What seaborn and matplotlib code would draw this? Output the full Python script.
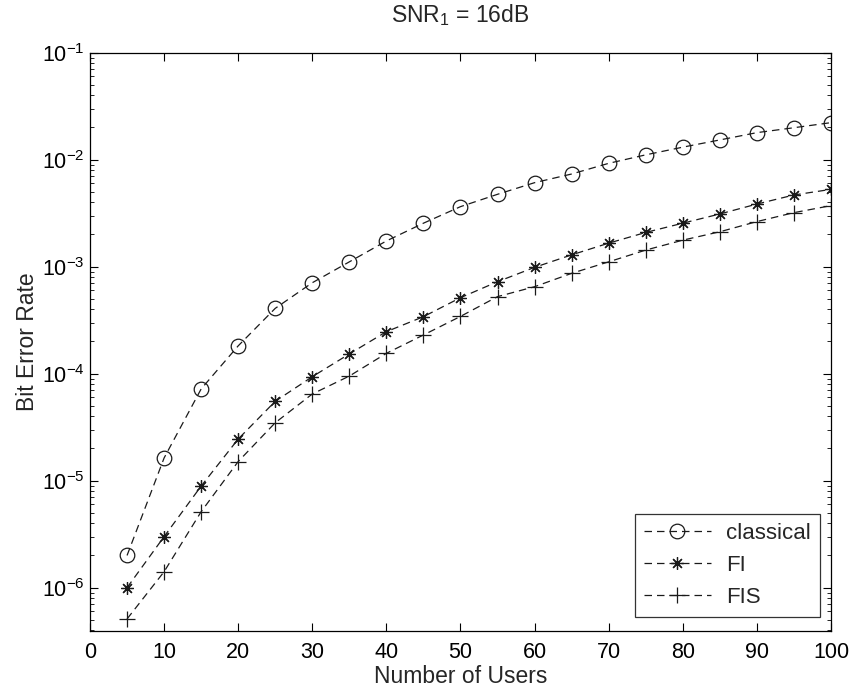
import numpy as np
import pandas as pd
import matplotlib
matplotlib.use("Agg")
import matplotlib.pyplot as plt
import matplotlib.ticker as mticker
import seaborn as sns

users = [5, 10, 15, 20, 25, 30, 35, 40, 45, 50, 55, 60, 65, 70, 75, 80, 85, 90, 95, 100]
classical = [2.0e-6, 1.63e-5, 7.2e-5, 1.82e-4, 4.08e-4, 7.08e-4, 1.11e-3, 1.74e-3, 2.55e-3, 3.64e-3,
             4.75e-3, 6.1e-3, 7.35e-3, 9.25e-3, 1.11e-2, 1.31e-2, 1.53e-2, 1.79e-2, 1.99e-2, 2.22e-2]
fi = [1.0e-6, 3.0e-6, 8.9e-6, 2.45e-5, 5.52e-5, 9.37e-5, 1.53e-4, 2.47e-4, 3.41e-4, 5.13e-4,
      7.24e-4, 9.86e-4, 1.29e-3, 1.66e-3, 2.09e-3, 2.55e-3, 3.11e-3, 3.85e-3, 4.68e-3, 5.28e-3]
fis = [5.1e-7, 1.41e-6, 5.13e-6, 1.51e-5, 3.48e-5, 6.46e-5, 9.5e-5, 1.55e-4, 2.30e-4, 3.43e-4,
       5.25e-4, 6.5e-4, 8.67e-4, 1.11e-3, 1.43e-3, 1.77e-3, 2.12e-3, 2.64e-3, 3.2e-3, 3.72e-3]
series_names = ["classical", "FI", "FIS"]
x_ticks = list(range(0, 101, 10))

sns.set_theme(style="ticks")
plt.rcParams["font.family"] = ["Liberation Sans", "DejaVu Sans"]
plt.rcParams["mathtext.fontset"] = "custom"
plt.rcParams["mathtext.rm"] = "Liberation Sans"
plt.rcParams["mathtext.it"] = "Liberation Sans:italic"
plt.rcParams["mathtext.bf"] = "Liberation Sans:bold"
plt.rcParams["axes.unicode_minus"] = False

fig = plt.figure(figsize=(8.52, 6.93), dpi=100)
ax = fig.add_axes([90 / 852, 1 - 631 / 693, 741 / 852, (631 - 52.7) / 693])

df = pd.DataFrame({"users": users, "classical": classical, "FI": fi, "FIS": fis})

line_kw = dict(color="#1a1a1a", linewidth=0.9, linestyle=(0, (6, 4)))
sns.lineplot(data=df, x="users", y="classical", ax=ax, marker="o", markersize=10.5,
             markerfacecolor="none", markeredgecolor="#1a1a1a", markeredgewidth=0.9,
             label=series_names[0], **line_kw)
sns.lineplot(data=df, x="users", y="FI", ax=ax, marker=(8, 2, 0), markersize=9,
             markeredgecolor="#1a1a1a", markeredgewidth=0.9,
             label=series_names[1], **line_kw)
sns.lineplot(data=df, x="users", y="FIS", ax=ax, marker="+", markersize=11,
             markeredgecolor="#1a1a1a", markeredgewidth=0.9,
             label=series_names[2], **line_kw)

ax.set_yscale("log")
ax.set_xlim(0, 100)
ax.set_ylim(10 ** -6.405, 1e-1)
ax.set_xticks(x_ticks)
ax.set_xticklabels([str(t) for t in x_ticks])
ax.yaxis.set_major_locator(mticker.LogLocator(base=10, numticks=20))
ax.yaxis.set_minor_locator(mticker.LogLocator(base=10, subs=np.arange(2, 10), numticks=20))
ax.yaxis.set_minor_formatter(mticker.NullFormatter())

ax.tick_params(which="both", direction="in", top=True, right=True, colors="black",
               labelsize=15.5)
ax.tick_params(axis="x", which="major", pad=8)
ax.tick_params(axis="y", which="major", pad=4)
ax.tick_params(which="major", length=6, width=0.8)
ax.tick_params(which="minor", length=3, width=0.6)
for s in ax.spines.values():
    s.set_visible(True)
    s.set_color("black")
    s.set_linewidth(0.9)

ax.set_xlabel("Number of Users", fontsize=16.5)
ax.set_ylabel("Bit Error Rate", fontsize=16.5)
ax.xaxis.set_label_coords(0.5, -0.058)
ax.yaxis.set_label_coords(-0.069, 0.5)
ax.set_title(r"SNR$_1$ = 16dB", fontsize=16.5, pad=22)

leg = ax.legend(loc="lower right", bbox_to_anchor=(0.985, 0.024), borderaxespad=0,
                fontsize=16, frameon=True, fancybox=False, edgecolor="black",
                handlelength=3.0, labelspacing=0.5, borderpad=0.4, handletextpad=0.7)
leg.get_frame().set_linewidth(0.9)

fig.savefig("out.png", dpi=100, facecolor="white")
